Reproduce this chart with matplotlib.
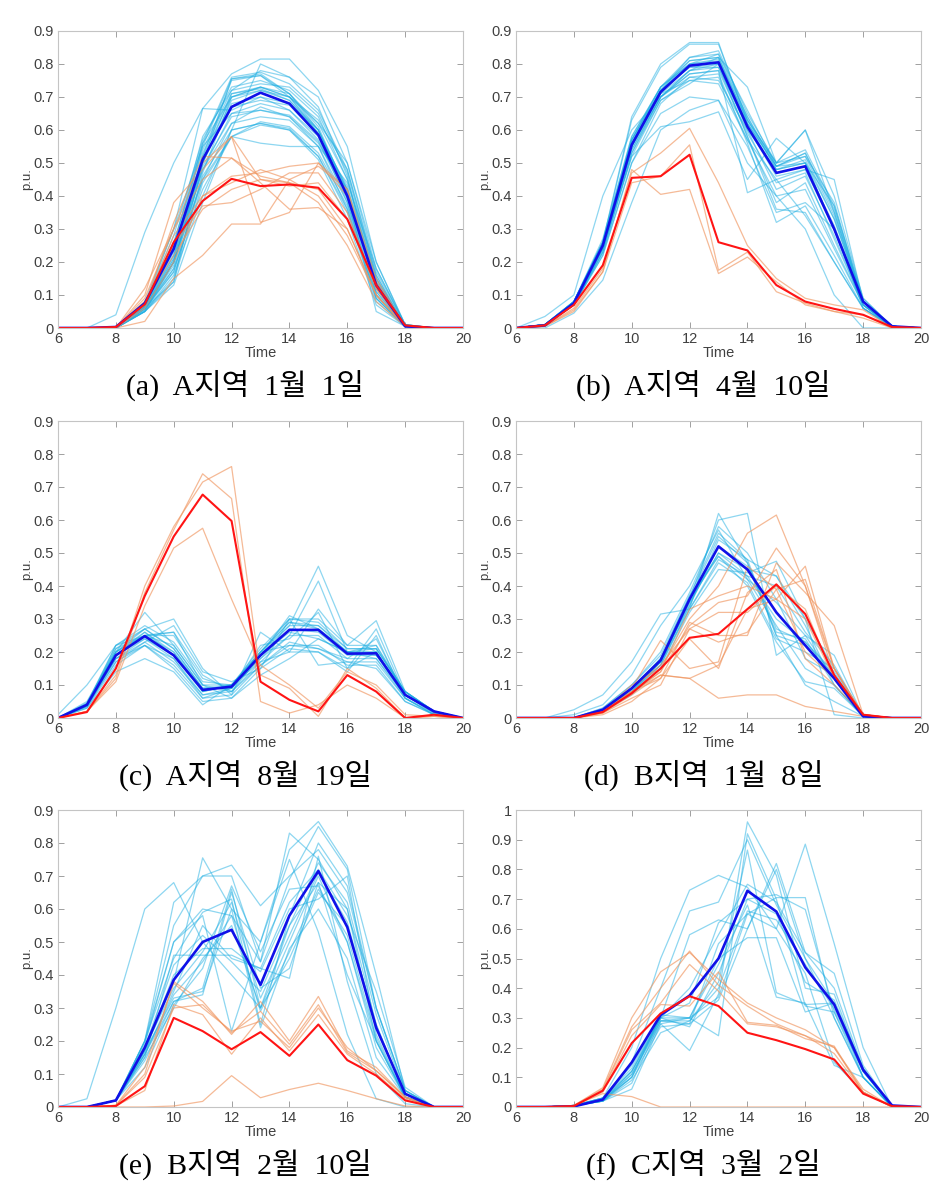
import matplotlib
matplotlib.use('Agg')
import matplotlib.pyplot as plt
from matplotlib.ticker import FuncFormatter, MultipleLocator

hours = list(range(6, 21))

# ---- (a) A지역 1월 1일 ----
a_blue = [
    [0, 0, 0.04, 0.29, 0.50, 0.665, 0.77, 0.815, 0.815, 0.72, 0.55, 0.20, 0.01, 0, 0],
    [0, 0, 0, 0.07, 0.22, 0.55, 0.755, 0.77, 0.71, 0.60, 0.42, 0.15, 0.005, 0, 0],
    [0, 0, 0, 0.06, 0.20, 0.50, 0.755, 0.765, 0.70, 0.59, 0.40, 0.14, 0.005, 0, 0],
    [0, 0, 0, 0.065, 0.25, 0.58, 0.72, 0.78, 0.76, 0.70, 0.50, 0.18, 0.01, 0, 0],
    [0, 0, 0, 0.05, 0.15, 0.47, 0.70, 0.73, 0.71, 0.62, 0.45, 0.16, 0.005, 0, 0],
    [0, 0, 0, 0.06, 0.14, 0.50, 0.69, 0.72, 0.70, 0.60, 0.42, 0.12, 0.005, 0, 0],
    [0, 0, 0, 0.06, 0.20, 0.45, 0.62, 0.67, 0.64, 0.55, 0.38, 0.10, 0.005, 0, 0],
    [0, 0, 0, 0.055, 0.18, 0.42, 0.58, 0.625, 0.61, 0.53, 0.37, 0.09, 0.005, 0, 0],
    [0, 0, 0, 0.05, 0.16, 0.40, 0.60, 0.62, 0.60, 0.52, 0.35, 0.08, 0.005, 0, 0],
    [0, 0, 0, 0.06, 0.17, 0.45, 0.58, 0.56, 0.55, 0.55, 0.36, 0.09, 0.005, 0, 0],
    [0, 0, 0, 0.07, 0.30, 0.665, 0.66, 0.70, 0.68, 0.60, 0.40, 0.05, 0.005, 0, 0],
    [0, 0, 0, 0.08, 0.30, 0.55, 0.65, 0.66, 0.64, 0.56, 0.42, 0.11, 0.005, 0, 0],
    [0, 0, 0, 0.06, 0.22, 0.50, 0.71, 0.73, 0.70, 0.62, 0.50, 0.20, 0.01, 0, 0],
    [0, 0, 0, 0.07, 0.26, 0.54, 0.72, 0.74, 0.73, 0.65, 0.47, 0.15, 0.005, 0, 0],
    [0, 0, 0, 0.05, 0.13, 0.38, 0.60, 0.80, 0.76, 0.67, 0.46, 0.10, 0.005, 0, 0],
    [0, 0, 0, 0.06, 0.20, 0.48, 0.65, 0.68, 0.66, 0.57, 0.40, 0.12, 0.005, 0, 0],
    [0, 0, 0, 0.06, 0.20, 0.50, 0.68, 0.70, 0.66, 0.58, 0.38, 0.10, 0.005, 0, 0],
    [0, 0, 0, 0.065, 0.24, 0.52, 0.70, 0.72, 0.69, 0.60, 0.41, 0.13, 0.005, 0, 0],
    [0, 0, 0, 0.05, 0.20, 0.48, 0.62, 0.64, 0.63, 0.55, 0.44, 0.18, 0.01, 0, 0],
    [0, 0, 0, 0.07, 0.28, 0.57, 0.73, 0.75, 0.72, 0.64, 0.45, 0.14, 0.005, 0, 0],
    [0, 0, 0, 0.06, 0.19, 0.52, 0.75, 0.765, 0.71, 0.61, 0.41, 0.14, 0.005, 0, 0],
    [0, 0, 0, 0.065, 0.21, 0.53, 0.71, 0.725, 0.69, 0.59, 0.40, 0.13, 0.005, 0, 0],
    [0, 0, 0, 0.055, 0.17, 0.46, 0.60, 0.62, 0.605, 0.52, 0.36, 0.09, 0.005, 0, 0],
    [0, 0, 0, 0.06, 0.18, 0.49, 0.64, 0.66, 0.645, 0.565, 0.39, 0.11, 0.005, 0, 0],
    [0, 0, 0, 0.07, 0.25, 0.56, 0.70, 0.73, 0.70, 0.63, 0.48, 0.17, 0.01, 0, 0],
    [0, 0, 0, 0.05, 0.14, 0.44, 0.58, 0.615, 0.60, 0.51, 0.33, 0.07, 0.005, 0, 0],
    [0, 0, 0, 0.065, 0.23, 0.56, 0.76, 0.775, 0.74, 0.66, 0.48, 0.16, 0.005, 0, 0],
    [0, 0, 0, 0.06, 0.21, 0.51, 0.67, 0.69, 0.675, 0.585, 0.43, 0.15, 0.005, 0, 0],
]
a_orange = [
    [0, 0, 0, 0.10, 0.38, 0.48, 0.58, 0.45, 0.44, 0.42, 0.30, 0.10, 0.005, 0, 0],
    [0, 0, 0, 0.12, 0.30, 0.50, 0.58, 0.32, 0.35, 0.50, 0.42, 0.12, 0.005, 0, 0],
    [0, 0, 0, 0.02, 0.15, 0.22, 0.315, 0.315, 0.45, 0.49, 0.42, 0.15, 0.005, 0, 0],
    [0, 0, 0, 0.08, 0.25, 0.37, 0.38, 0.42, 0.47, 0.47, 0.35, 0.12, 0.005, 0, 0],
    [0, 0, 0, 0.07, 0.28, 0.40, 0.44, 0.48, 0.45, 0.40, 0.28, 0.10, 0.005, 0, 0],
    [0, 0, 0, 0.09, 0.30, 0.45, 0.515, 0.46, 0.44, 0.38, 0.25, 0.08, 0.005, 0, 0],
    [0, 0, 0, 0.06, 0.20, 0.40, 0.46, 0.47, 0.49, 0.50, 0.40, 0.14, 0.005, 0, 0],
    [0, 0, 0, 0.07, 0.32, 0.52, 0.515, 0.44, 0.36, 0.365, 0.30, 0.10, 0.005, 0, 0],
    [0, 0, 0, 0.08, 0.22, 0.36, 0.42, 0.45, 0.43, 0.44, 0.33, 0.12, 0.005, 0, 0],
]
a_blue_mean = [0, 0, 0.003, 0.075, 0.24, 0.51, 0.67, 0.713, 0.68, 0.585, 0.40, 0.13, 0.005, 0, 0]
a_red_mean = [0, 0, 0.003, 0.072, 0.26, 0.385, 0.452, 0.43, 0.435, 0.425, 0.33, 0.13, 0.008, 0, 0]

# ---- (b) A지역 4월 10일 ----
b_blue = [
    [0, 0.01, 0.08, 0.26, 0.64, 0.80, 0.865, 0.865, 0.62, 0.49, 0.50, 0.33, 0.08, 0.005, 0],
    [0, 0.01, 0.08, 0.26, 0.63, 0.79, 0.86, 0.86, 0.63, 0.50, 0.52, 0.34, 0.08, 0.005, 0],
    [0, 0.01, 0.08, 0.25, 0.52, 0.61, 0.625, 0.655, 0.45, 0.575, 0.50, 0.30, 0.08, 0.005, 0],
    [0, 0.01, 0.07, 0.22, 0.50, 0.65, 0.70, 0.69, 0.50, 0.40, 0.30, 0.10, 0, 0, 0],
    [0, 0.01, 0.07, 0.25, 0.55, 0.70, 0.78, 0.82, 0.73, 0.50, 0.60, 0.35, 0.08, 0, 0],
    [0, 0.035, 0.10, 0.40, 0.60, 0.70, 0.76, 0.75, 0.60, 0.48, 0.50, 0.30, 0.07, 0, 0],
    [0, 0, 0.045, 0.145, 0.38, 0.60, 0.66, 0.69, 0.55, 0.35, 0.38, 0.30, 0.06, 0, 0],
    [0, 0.01, 0.08, 0.27, 0.58, 0.73, 0.81, 0.82, 0.62, 0.49, 0.53, 0.36, 0.08, 0.005, 0],
    [0, 0.01, 0.07, 0.24, 0.55, 0.72, 0.80, 0.83, 0.64, 0.48, 0.50, 0.37, 0.08, 0.005, 0],
    [0, 0.01, 0.07, 0.23, 0.53, 0.70, 0.78, 0.80, 0.60, 0.42, 0.46, 0.28, 0.07, 0.005, 0],
    [0, 0.01, 0.075, 0.25, 0.56, 0.72, 0.79, 0.79, 0.58, 0.38, 0.44, 0.25, 0.07, 0.005, 0],
    [0, 0.01, 0.07, 0.22, 0.50, 0.68, 0.76, 0.77, 0.56, 0.32, 0.37, 0.22, 0.06, 0.005, 0],
    [0, 0.01, 0.08, 0.26, 0.57, 0.73, 0.80, 0.81, 0.63, 0.50, 0.60, 0.40, 0.09, 0.005, 0],
    [0, 0.01, 0.07, 0.24, 0.54, 0.70, 0.77, 0.78, 0.41, 0.45, 0.34, 0.20, 0.06, 0.005, 0],
    [0, 0.01, 0.075, 0.25, 0.55, 0.71, 0.75, 0.74, 0.57, 0.45, 0.48, 0.45, 0.08, 0.005, 0],
    [0, 0.01, 0.07, 0.23, 0.52, 0.69, 0.74, 0.80, 0.58, 0.36, 0.35, 0.20, 0.06, 0.005, 0],
    [0, 0.01, 0.08, 0.26, 0.57, 0.72, 0.82, 0.83, 0.66, 0.49, 0.52, 0.38, 0.08, 0.005, 0],
    [0, 0.01, 0.075, 0.25, 0.57, 0.72, 0.79, 0.80, 0.62, 0.47, 0.49, 0.31, 0.08, 0.005, 0],
    [0, 0.01, 0.075, 0.24, 0.55, 0.71, 0.78, 0.79, 0.61, 0.46, 0.48, 0.30, 0.07, 0.005, 0],
    [0, 0.01, 0.08, 0.26, 0.58, 0.73, 0.80, 0.815, 0.63, 0.48, 0.51, 0.33, 0.08, 0.005, 0],
    [0, 0.01, 0.07, 0.24, 0.54, 0.70, 0.77, 0.78, 0.59, 0.44, 0.47, 0.27, 0.07, 0.005, 0],
    [0, 0.01, 0.075, 0.25, 0.56, 0.72, 0.81, 0.82, 0.64, 0.49, 0.53, 0.35, 0.08, 0.005, 0],
    [0, 0.01, 0.07, 0.23, 0.53, 0.69, 0.75, 0.76, 0.57, 0.40, 0.42, 0.24, 0.07, 0.005, 0],
    [0, 0.01, 0.08, 0.25, 0.57, 0.73, 0.82, 0.84, 0.65, 0.50, 0.54, 0.37, 0.09, 0.005, 0],
]
b_orange = [
    [0, 0.005, 0.06, 0.18, 0.47, 0.53, 0.605, 0.44, 0.25, 0.15, 0.09, 0.07, 0.055, 0, 0],
    [0, 0.005, 0.055, 0.17, 0.44, 0.46, 0.555, 0.175, 0.23, 0.11, 0.075, 0.05, 0.03, 0, 0],
    [0, 0.005, 0.05, 0.17, 0.48, 0.405, 0.42, 0.165, 0.215, 0.14, 0.07, 0.05, 0.04, 0, 0],
]
b_blue_mean = [0, 0.008, 0.075, 0.25, 0.555, 0.715, 0.795, 0.805, 0.61, 0.47, 0.49, 0.30, 0.08, 0.005, 0]
b_red_mean = [0, 0.008, 0.07, 0.19, 0.455, 0.46, 0.525, 0.26, 0.235, 0.13, 0.08, 0.058, 0.04, 0.003, 0]

# ---- (c) A지역 8월 19일 ----
c_blue = [
    [0.01, 0.10, 0.22, 0.25, 0.20, 0.08, 0.10, 0.20, 0.28, 0.46, 0.25, 0.20, 0.07, 0.02, 0],
    [0, 0.05, 0.20, 0.32, 0.22, 0.10, 0.10, 0.18, 0.25, 0.415, 0.20, 0.18, 0.07, 0.02, 0],
    [0, 0.04, 0.22, 0.27, 0.30, 0.15, 0.07, 0.26, 0.20, 0.33, 0.22, 0.295, 0.08, 0.02, 0],
    [0, 0.03, 0.14, 0.18, 0.14, 0.04, 0.10, 0.17, 0.20, 0.20, 0.15, 0.20, 0.06, 0.01, 0],
    [0, 0.04, 0.18, 0.22, 0.15, 0.05, 0.06, 0.15, 0.30, 0.16, 0.17, 0.15, 0.05, 0.01, 0],
    [0, 0.04, 0.20, 0.27, 0.21, 0.09, 0.10, 0.20, 0.30, 0.29, 0.21, 0.21, 0.08, 0.02, 0],
    [0, 0.04, 0.19, 0.26, 0.20, 0.09, 0.09, 0.19, 0.28, 0.28, 0.20, 0.20, 0.07, 0.02, 0],
    [0, 0.035, 0.17, 0.23, 0.17, 0.07, 0.08, 0.17, 0.25, 0.25, 0.18, 0.18, 0.06, 0.015, 0],
    [0, 0.03, 0.16, 0.22, 0.16, 0.06, 0.09, 0.20, 0.22, 0.22, 0.16, 0.16, 0.05, 0.01, 0],
    [0, 0.045, 0.21, 0.25, 0.25, 0.12, 0.09, 0.22, 0.24, 0.32, 0.15, 0.27, 0.07, 0.02, 0],
    [0, 0.04, 0.18, 0.23, 0.28, 0.14, 0.11, 0.15, 0.21, 0.20, 0.14, 0.25, 0.06, 0.01, 0],
    [0, 0.04, 0.20, 0.25, 0.26, 0.10, 0.06, 0.13, 0.18, 0.24, 0.20, 0.22, 0.07, 0.015, 0],
    [0, 0.035, 0.19, 0.24, 0.19, 0.08, 0.10, 0.20, 0.29, 0.27, 0.20, 0.19, 0.08, 0.02, 0],
    [0, 0.04, 0.20, 0.25, 0.22, 0.10, 0.08, 0.19, 0.31, 0.27, 0.20, 0.21, 0.08, 0.02, 0],
    [0, 0.04, 0.20, 0.26, 0.19, 0.08, 0.10, 0.19, 0.26, 0.24, 0.20, 0.20, 0.07, 0.02, 0],
    [0, 0.04, 0.21, 0.27, 0.21, 0.09, 0.09, 0.20, 0.29, 0.28, 0.21, 0.21, 0.08, 0.02, 0],
    [0, 0.035, 0.18, 0.24, 0.18, 0.07, 0.09, 0.18, 0.27, 0.26, 0.19, 0.19, 0.07, 0.015, 0],
    [0, 0.045, 0.22, 0.28, 0.23, 0.11, 0.10, 0.21, 0.30, 0.30, 0.22, 0.22, 0.08, 0.02, 0],
    [0, 0.04, 0.19, 0.25, 0.26, 0.13, 0.08, 0.16, 0.23, 0.21, 0.18, 0.24, 0.07, 0.02, 0],
    [0, 0.035, 0.17, 0.22, 0.18, 0.06, 0.07, 0.16, 0.22, 0.21, 0.17, 0.17, 0.06, 0.01, 0],
]
c_orange = [
    [0, 0.02, 0.12, 0.38, 0.57, 0.74, 0.665, 0.05, 0.015, 0.04, 0.10, 0.06, 0, 0.005, 0],
    [0, 0.02, 0.13, 0.40, 0.58, 0.715, 0.762, 0.13, 0.09, 0.005, 0.15, 0.09, 0, 0.005, 0],
    [0, 0.02, 0.11, 0.34, 0.515, 0.575, 0.36, 0.16, 0.10, 0.03, 0.14, 0.10, 0.01, 0.005, 0],
]
c_blue_mean = [0, 0.04, 0.19, 0.248, 0.19, 0.085, 0.095, 0.19, 0.267, 0.267, 0.195, 0.196, 0.07, 0.02, 0]
c_red_mean = [0, 0.018, 0.15, 0.37, 0.55, 0.677, 0.597, 0.11, 0.055, 0.02, 0.13, 0.08, 0.0, 0.01, 0]

# ---- (d) B지역 1월 8일 ----
d_blue = [
    [0, 0, 0.025, 0.07, 0.17, 0.315, 0.33, 0.62, 0.47, 0.25, 0.10, 0.05, 0.005, 0, 0],
    [0, 0, 0.01, 0.04, 0.13, 0.28, 0.40, 0.57, 0.42, 0.35, 0.25, 0.19, 0.005, 0, 0],
    [0, 0, 0, 0.02, 0.09, 0.18, 0.36, 0.60, 0.62, 0.19, 0.25, 0.12, 0.005, 0, 0],
    [0, 0, 0, 0.03, 0.10, 0.19, 0.37, 0.56, 0.48, 0.43, 0.28, 0.10, 0.005, 0, 0],
    [0, 0, 0, 0.02, 0.08, 0.17, 0.35, 0.50, 0.45, 0.43, 0.30, 0.15, 0.005, 0, 0],
    [0, 0, 0, 0.025, 0.085, 0.18, 0.37, 0.49, 0.42, 0.28, 0.15, 0.10, 0.005, 0, 0],
    [0, 0, 0, 0.02, 0.09, 0.16, 0.34, 0.54, 0.48, 0.25, 0.22, 0.12, 0.005, 0, 0],
    [0, 0, 0, 0.025, 0.08, 0.17, 0.33, 0.47, 0.41, 0.24, 0.20, 0.15, 0.005, 0, 0],
    [0, 0, 0, 0.02, 0.07, 0.15, 0.32, 0.45, 0.44, 0.475, 0.30, 0.01, 0, 0, 0],
    [0, 0, 0, 0.03, 0.10, 0.20, 0.38, 0.58, 0.50, 0.36, 0.18, 0.13, 0.005, 0, 0],
    [0, 0, 0, 0.02, 0.08, 0.16, 0.36, 0.49, 0.40, 0.23, 0.11, 0.09, 0.005, 0, 0],
    [0, 0, 0, 0.025, 0.09, 0.17, 0.35, 0.50, 0.43, 0.30, 0.23, 0.14, 0.005, 0, 0],
    [0, 0, 0, 0.02, 0.09, 0.18, 0.34, 0.52, 0.46, 0.26, 0.24, 0.10, 0.005, 0, 0],
    [0, 0, 0, 0.025, 0.09, 0.17, 0.36, 0.55, 0.47, 0.27, 0.23, 0.13, 0.005, 0, 0],
    [0, 0, 0, 0.02, 0.08, 0.16, 0.33, 0.48, 0.43, 0.40, 0.26, 0.16, 0.005, 0, 0],
]
d_orange = [
    [0, 0, 0, 0.015, 0.07, 0.13, 0.12, 0.06, 0.07, 0.07, 0.035, 0.02, 0.005, 0, 0],
    [0, 0, 0, 0.02, 0.08, 0.13, 0.12, 0.16, 0.33, 0.36, 0.46, 0.15, 0.01, 0, 0],
    [0, 0, 0, 0.02, 0.09, 0.235, 0.15, 0.17, 0.46, 0.39, 0.20, 0.12, 0.005, 0, 0],
    [0, 0, 0, 0.02, 0.10, 0.15, 0.30, 0.40, 0.56, 0.615, 0.40, 0.13, 0.01, 0, 0],
    [0, 0, 0, 0.02, 0.075, 0.14, 0.28, 0.35, 0.37, 0.515, 0.40, 0.15, 0.01, 0, 0],
    [0, 0, 0, 0.02, 0.08, 0.12, 0.29, 0.25, 0.25, 0.47, 0.38, 0.28, 0.01, 0, 0],
    [0, 0, 0, 0.015, 0.06, 0.10, 0.27, 0.32, 0.32, 0.40, 0.33, 0.12, 0.01, 0, 0],
    [0, 0, 0, 0.02, 0.09, 0.16, 0.27, 0.23, 0.26, 0.39, 0.42, 0.15, 0.01, 0, 0],
    [0, 0, 0, 0.01, 0.05, 0.12, 0.24, 0.15, 0.38, 0.45, 0.18, 0.10, 0.01, 0, 0],
    [0, 0, 0, 0.02, 0.08, 0.14, 0.33, 0.37, 0.40, 0.36, 0.30, 0.12, 0.01, 0, 0],
]
d_blue_mean = [0, 0, 0, 0.025, 0.09, 0.175, 0.36, 0.52, 0.45, 0.32, 0.22, 0.12, 0.005, 0, 0]
d_red_mean = [0, 0, 0, 0.018, 0.075, 0.15, 0.243, 0.255, 0.33, 0.405, 0.315, 0.13, 0.01, 0, 0]

# ---- (e) B지역 2월 10일 ----
e_blue = [
    [0, 0.025, 0.30, 0.60, 0.68, 0.50, 0.40, 0.30, 0.55, 0.68, 0.60, 0.25, 0.03, 0, 0],
    [0, 0, 0.02, 0.20, 0.62, 0.70, 0.70, 0.44, 0.83, 0.75, 0.60, 0.20, 0.03, 0, 0],
    [0, 0, 0.02, 0.17, 0.38, 0.755, 0.60, 0.50, 0.78, 0.865, 0.73, 0.40, 0.05, 0, 0],
    [0, 0, 0.02, 0.20, 0.55, 0.70, 0.733, 0.61, 0.70, 0.78, 0.65, 0.30, 0.05, 0, 0],
    [0, 0, 0.02, 0.15, 0.46, 0.46, 0.46, 0.42, 0.39, 0.76, 0.38, 0.10, 0.01, 0, 0],
    [0, 0, 0.02, 0.19, 0.50, 0.58, 0.23, 0.50, 0.75, 0.53, 0.22, 0.025, 0, 0, 0],
    [0, 0, 0.02, 0.16, 0.32, 0.36, 0.66, 0.30, 0.50, 0.70, 0.50, 0.20, 0.03, 0, 0],
    [0, 0, 0.02, 0.20, 0.45, 0.59, 0.63, 0.25, 0.58, 0.80, 0.67, 0.30, 0.05, 0, 0],
    [0, 0, 0.02, 0.15, 0.30, 0.45, 0.55, 0.30, 0.45, 0.65, 0.55, 0.25, 0.03, 0, 0],
    [0, 0, 0.02, 0.14, 0.32, 0.34, 0.65, 0.36, 0.42, 0.68, 0.40, 0.20, 0.03, 0, 0],
    [0, 0, 0.02, 0.17, 0.40, 0.48, 0.48, 0.41, 0.60, 0.63, 0.70, 0.22, 0.03, 0, 0],
    [0, 0, 0.02, 0.16, 0.35, 0.55, 0.45, 0.42, 0.62, 0.72, 0.58, 0.35, 0.06, 0, 0],
    [0, 0, 0.02, 0.18, 0.43, 0.52, 0.44, 0.35, 0.55, 0.74, 0.62, 0.28, 0.04, 0, 0],
    [0, 0, 0.02, 0.12, 0.31, 0.42, 0.67, 0.47, 0.66, 0.67, 0.50, 0.18, 0.03, 0, 0],
    [0, 0, 0.02, 0.20, 0.50, 0.60, 0.58, 0.44, 0.69, 0.85, 0.72, 0.30, 0.05, 0, 0],
    [0, 0, 0.02, 0.17, 0.33, 0.35, 0.60, 0.24, 0.48, 0.60, 0.45, 0.15, 0.03, 0, 0],
    [0, 0, 0.02, 0.18, 0.36, 0.47, 0.62, 0.33, 0.52, 0.71, 0.56, 0.24, 0.04, 0, 0],
    [0, 0, 0.02, 0.16, 0.34, 0.44, 0.58, 0.29, 0.47, 0.66, 0.52, 0.21, 0.03, 0, 0],
]
e_orange = [
    [0, 0, 0, 0, 0.003, 0.017, 0.095, 0.028, 0.053, 0.072, 0.05, 0.025, 0.003, 0, 0],
    [0, 0, 0.005, 0.10, 0.38, 0.32, 0.22, 0.32, 0.20, 0.335, 0.17, 0.12, 0.03, 0, 0],
    [0, 0, 0.005, 0.09, 0.30, 0.31, 0.225, 0.29, 0.19, 0.31, 0.165, 0.11, 0.03, 0, 0],
    [0, 0, 0.003, 0.05, 0.31, 0.28, 0.16, 0.27, 0.17, 0.28, 0.16, 0.10, 0.025, 0, 0],
    [0, 0, 0.005, 0.12, 0.375, 0.30, 0.23, 0.26, 0.18, 0.30, 0.18, 0.11, 0.03, 0, 0],
]
e_blue_mean = [0, 0, 0.02, 0.18, 0.385, 0.50, 0.537, 0.37, 0.58, 0.715, 0.545, 0.24, 0.04, 0.0, 0]
e_red_mean = [0, 0, 0.003, 0.063, 0.27, 0.23, 0.175, 0.227, 0.155, 0.25, 0.142, 0.095, 0.02, 0, 0]

# ---- (f) C지역 3월 2일 ----
f_blue = [
    [0, 0, 0.005, 0.03, 0.20, 0.50, 0.73, 0.78, 0.74, 0.60, 0.45, 0.15, 0.05, 0, 0],
    [0, 0, 0.005, 0.03, 0.15, 0.40, 0.66, 0.69, 0.90, 0.68, 0.50, 0.30, 0.10, 0, 0],
    [0, 0, 0.005, 0.02, 0.10, 0.30, 0.58, 0.63, 0.60, 0.80, 0.50, 0.35, 0.10, 0, 0],
    [0, 0, 0.005, 0.02, 0.06, 0.28, 0.19, 0.38, 0.96, 0.78, 0.40, 0.38, 0.12, 0, 0],
    [0, 0, 0.005, 0.03, 0.12, 0.30, 0.30, 0.24, 0.92, 0.70, 0.34, 0.32, 0.10, 0, 0],
    [0, 0, 0.005, 0.02, 0.09, 0.25, 0.29, 0.42, 0.865, 0.385, 0.345, 0.35, 0.13, 0, 0],
    [0, 0, 0.005, 0.025, 0.10, 0.27, 0.28, 0.36, 0.60, 0.82, 0.52, 0.45, 0.14, 0, 0],
    [0, 0, 0.005, 0.02, 0.08, 0.29, 0.30, 0.37, 0.65, 0.705, 0.705, 0.30, 0.10, 0, 0],
    [0, 0, 0.005, 0.03, 0.13, 0.30, 0.27, 0.45, 0.70, 0.715, 0.665, 0.32, 0.12, 0, 0],
    [0, 0, 0.005, 0.02, 0.10, 0.31, 0.30, 0.50, 0.57, 0.57, 0.32, 0.35, 0.12, 0, 0],
    [0, 0, 0.005, 0.025, 0.12, 0.29, 0.28, 0.55, 0.65, 0.60, 0.885, 0.55, 0.20, 0, 0],
    [0, 0, 0.005, 0.02, 0.11, 0.28, 0.30, 0.48, 0.68, 0.37, 0.35, 0.14, 0.10, 0, 0],
    [0, 0, 0.005, 0.03, 0.14, 0.30, 0.35, 0.62, 0.70, 0.65, 0.42, 0.36, 0.13, 0, 0],
    [0, 0, 0.005, 0.02, 0.12, 0.30, 0.40, 0.58, 0.75, 0.69, 0.52, 0.40, 0.13, 0, 0],
    [0, 0, 0.005, 0.025, 0.11, 0.29, 0.29, 0.40, 0.66, 0.63, 0.48, 0.33, 0.12, 0, 0],
]
f_orange = [
    [0, 0, 0.005, 0.045, 0.035, 0, 0, 0, 0, 0, 0, 0, 0, 0, 0],
    [0, 0, 0.005, 0.065, 0.30, 0.455, 0.52, 0.43, 0.35, 0.30, 0.26, 0.20, 0.05, 0, 0],
    [0, 0, 0.005, 0.06, 0.27, 0.40, 0.525, 0.41, 0.34, 0.28, 0.24, 0.20, 0.06, 0, 0],
    [0, 0, 0.005, 0.05, 0.24, 0.345, 0.34, 0.455, 0.285, 0.275, 0.23, 0.205, 0.05, 0, 0],
    [0, 0, 0.005, 0.055, 0.26, 0.35, 0.48, 0.39, 0.28, 0.27, 0.24, 0.18, 0.05, 0, 0],
]
f_blue_mean = [0, 0, 0.002, 0.025, 0.15, 0.31, 0.375, 0.50, 0.728, 0.658, 0.47, 0.345, 0.125, 0.005, 0]
f_red_mean = [0, 0, 0.003, 0.055, 0.215, 0.315, 0.373, 0.34, 0.25, 0.225, 0.195, 0.16, 0.045, 0.003, 0]

captions = [
    '(a)  A지역  1월  1일', '(b)  A지역  4월  10일',
    '(c)  A지역  8월  19일', '(d)  B지역  1월  8일',
    '(e)  B지역  2월  10일', '(f)  C지역  3월  2일',
]
panels = [
    (a_blue, a_orange, a_blue_mean, a_red_mean, 0.9),
    (b_blue, b_orange, b_blue_mean, b_red_mean, 0.9),
    (c_blue, c_orange, c_blue_mean, c_red_mean, 0.9),
    (d_blue, d_orange, d_blue_mean, d_red_mean, 0.9),
    (e_blue, e_orange, e_blue_mean, e_red_mean, 0.9),
    (f_blue, f_orange, f_blue_mean, f_red_mean, 1.0),
]

LIGHT_BLUE = '#1eaee2'
LIGHT_ORANGE = '#f0955f'
TICK_GRAY = '#404040'
FRAME_GRAY = '#c4c4c4'
SANS = ['Liberation Sans', 'DejaVu Sans']

W, H = 949, 1199
lefts = [58, 516]
tops = [31, 421, 810]
ax_w, ax_h = 405, 297


def tick_fmt(v, _):
    if abs(v) < 1e-9:
        return '0'
    if abs(v - 1) < 1e-9:
        return '1'
    return f'{v:.1f}'


def draw_panel(ax, blue, orange, blue_mean, red_mean, ymax):
    for ys in blue:
        ax.plot(hours, ys, color=LIGHT_BLUE, lw=0.9, alpha=0.5)
    for ys in orange:
        ax.plot(hours, ys, color=LIGHT_ORANGE, lw=0.9, alpha=0.65)
    ax.plot(hours, blue_mean, color='#1010e8', lw=1.9)
    ax.plot(hours, red_mean, color='#ff1414', lw=1.5)

    ax.set_xlim(6, 20)
    ax.set_ylim(0, ymax)
    ax.xaxis.set_major_locator(MultipleLocator(2))
    ax.yaxis.set_major_locator(MultipleLocator(0.1))
    ax.yaxis.set_major_formatter(FuncFormatter(tick_fmt))
    ax.tick_params(direction='in', top=True, right=True, length=4,
                   width=0.6, color='#909090', labelcolor=TICK_GRAY,
                   labelsize=10.5, pad=3)
    for s in ax.spines.values():
        s.set_color(FRAME_GRAY)
        s.set_linewidth(0.8)
    for lab in ax.get_xticklabels() + ax.get_yticklabels():
        lab.set_family(SANS)
    ax.set_xlabel('Time', fontsize=10.5, color=TICK_GRAY, labelpad=0,
                  family=SANS)
    ax.set_ylabel('p.u.', fontsize=9.5, color=TICK_GRAY, labelpad=0,
                  family=SANS)


fig = plt.figure(figsize=(W / 100, H / 100), dpi=100)
for i, (blue, orange, bmean, rmean, ymax) in enumerate(panels):
    row, col = divmod(i, 2)
    left = lefts[col] / W
    bottom = 1 - (tops[row] + ax_h) / H
    ax = fig.add_axes([left, bottom, ax_w / W, ax_h / H])
    draw_panel(ax, blue, orange, bmean, rmean, ymax)
    # captions sit a little left of the axes centre
    cap_x = (lefts[col] + ax_w / 2 - 15) / W
    cap_y = 1 - (tops[row] + ax_h + 57) / H
    fig.text(cap_x, cap_y, captions[i], ha='center', va='center',
             fontsize=21.5, color='black',
             family=['Liberation Serif', 'Noto Sans CJK KR'])

fig.savefig('out.png', dpi=100)
